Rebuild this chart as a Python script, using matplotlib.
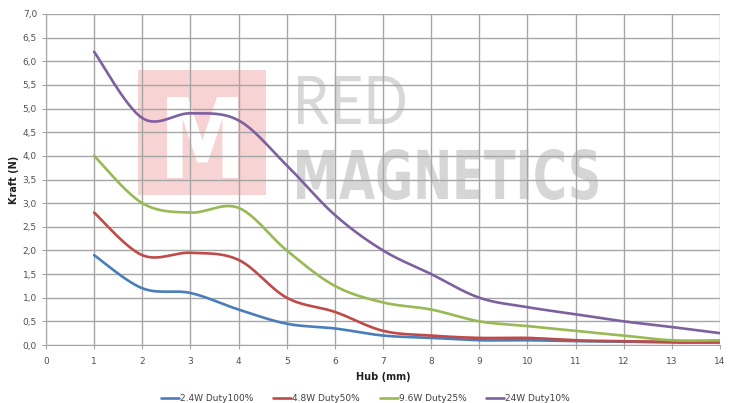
import numpy as np
import matplotlib
matplotlib.use('Agg')
import matplotlib.pyplot as plt
from matplotlib.textpath import TextPath
from matplotlib.patches import PathPatch, Rectangle
from matplotlib.font_manager import FontProperties
from matplotlib.transforms import Affine2D
from matplotlib.ticker import FuncFormatter, MultipleLocator

# data (Hub in mm, Kraft in N)
hub = [1, 2, 3, 4, 5, 6, 7, 8, 9, 10, 11, 12, 13, 14]
kraft_24 = [1.9, 1.2, 1.1, 0.75, 0.45, 0.35, 0.2, 0.15, 0.1, 0.1, 0.08, 0.07, 0.05, 0.05]
kraft_48 = [2.8, 1.9, 1.95, 1.8, 1.0, 0.7, 0.3, 0.2, 0.15, 0.15, 0.1, 0.08, 0.07, 0.07]
kraft_96 = [4.0, 3.0, 2.8, 2.9, 2.0, 1.25, 0.9, 0.75, 0.5, 0.4, 0.3, 0.2, 0.1, 0.1]
kraft_240 = [6.2, 4.8, 4.9, 4.75, 3.8, 2.75, 2.0, 1.5, 1.0, 0.8, 0.65, 0.5, 0.38, 0.25]

labels = ['2.4W Duty100%', '4.8W Duty50%', '9.6W Duty25%', '24W Duty10%']
colors = ['#4a7ebb', '#be4b48', '#98b954', '#7d60a0']

W, H = 731, 403


def smooth(x, y, n=30):
    # excel style smoothed line (cubic bezier, catmull-rom tangents)
    x = np.asarray(x, float)
    y = np.asarray(y, float)
    px = np.concatenate([[x[0]], x, [x[-1]]])
    py = np.concatenate([[y[0]], y, [y[-1]]])
    xs, ys = [], []
    t = np.linspace(0, 1, n)
    for i in range(len(x) - 1):
        p0 = np.array([px[i + 1], py[i + 1]])
        p3 = np.array([px[i + 2], py[i + 2]])
        p1 = p0 + (p3 - np.array([px[i], py[i]])) / 6
        p2 = p3 - (np.array([px[i + 3], py[i + 3]]) - p0) / 6
        b = ((1 - t) ** 3)[:, None] * p0 + (3 * (1 - t) ** 2 * t)[:, None] * p1 \
            + (3 * (1 - t) * t ** 2)[:, None] * p2 + (t ** 3)[:, None] * p3
        xs.extend(b[:, 0])
        ys.extend(b[:, 1])
    return xs, ys


fig = plt.figure(figsize=(W / 100, H / 100), dpi=100)
fig.patch.set_facecolor('white')

# background axes for the watermark, in pixel coords (top-left origin)
bg = fig.add_axes([0, 0, 1, 1], zorder=0)
bg.set_xlim(0, W)
bg.set_ylim(H, 0)
bg.axis('off')

ax = fig.add_axes([46 / W, 1 - 345 / H, (720 - 46) / W, (345 - 14) / H], zorder=1)
ax.set_facecolor('none')


def fit_text(s, box, color, family, weight):
    # text as a path stretched into a pixel box (x0, y0, x1, y1)
    x0, y0, x1, y1 = box
    tp = TextPath((0, 0), s, size=1, prop=FontProperties(family=family, weight=weight))
    bb = tp.get_extents()
    tr = Affine2D().translate(-bb.x0, -bb.y1) \
        .scale((x1 - x0) / bb.width, -(y1 - y0) / bb.height) \
        .translate(x0, y0)
    bg.add_patch(PathPatch(tr.transform_path(tp), facecolor=color, edgecolor='none'))


bg.add_patch(Rectangle((138, 70), 128, 125, facecolor='#f7d3d4', edgecolor='none'))
fit_text('M', (167, 97, 238, 178), 'white', 'DejaVu Sans', 'bold')
fit_text('RED', (298, 76, 405, 124), '#d8d8d8', 'Lato', 'normal')
fit_text('MAGNETICS', (297, 149, 598, 200), '#d6d6d6', 'DejaVu Sans', 'bold')

series = [kraft_24, kraft_48, kraft_96, kraft_240]
for vals, lab, c in zip(series, labels, colors):
    sx, sy = smooth(hub, vals)
    ax.plot(sx, sy, color=c, lw=1.9, label=lab, zorder=3, solid_capstyle='round')

ax.set_xlim(0, 14)
ax.set_ylim(0, 7)
ax.xaxis.set_major_locator(MultipleLocator(1))
ax.yaxis.set_major_locator(MultipleLocator(0.5))
ax.yaxis.set_major_formatter(FuncFormatter(lambda v, p: ('%.1f' % v).replace('.', ',')))
ax.set_axisbelow(True)
ax.grid(True, color='#a6a6a6', lw=1.0)
for s in ['top', 'right']:
    ax.spines[s].set_visible(False)
for s in ['left', 'bottom']:
    ax.spines[s].set_color('#a6a6a6')
ax.tick_params(colors='#a6a6a6', length=3, labelcolor='#505050', labelsize=6.5)
ax.tick_params(axis='x', pad=6)
ax.set_xlabel('Hub (mm)', fontsize=7, fontweight='bold', color='#222222', labelpad=4)
ax.set_ylabel('Kraft (N)', fontsize=7, fontweight='bold', color='#222222', labelpad=3)

fig.legend(loc='lower center', ncol=4, frameon=False, fontsize=6.5, bbox_to_anchor=(0.5, -0.02),
           handlelength=2.0, handletextpad=0.1, columnspacing=2.2, labelcolor='#404040')

fig.savefig('out.png', dpi=100, facecolor='white')
